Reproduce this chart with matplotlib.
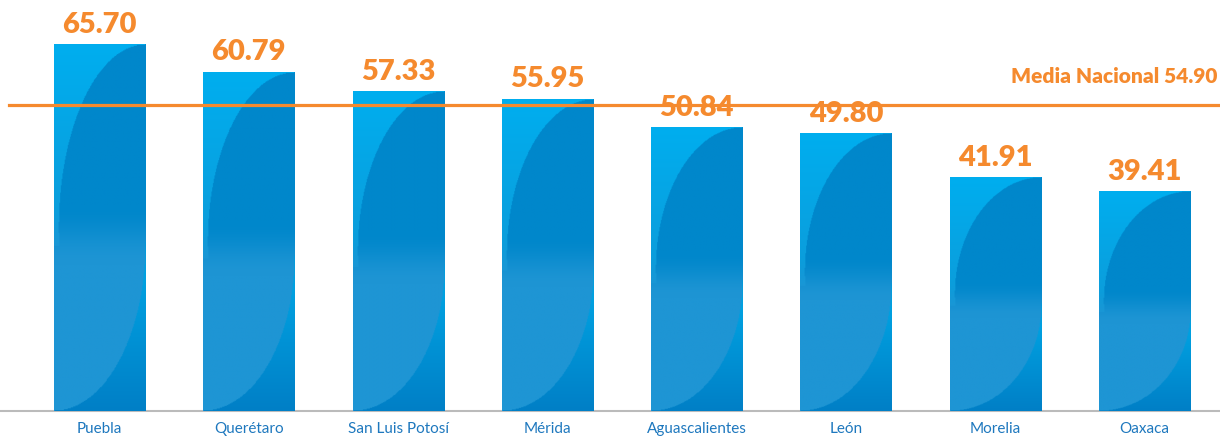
import numpy as np
import matplotlib.pyplot as plt

ciudades = ['Puebla', 'Querétaro', 'San Luis Potosí', 'Mérida',
            'Aguascalientes', 'León', 'Morelia', 'Oaxaca']
valores = [65.70, 60.79, 57.33, 55.95, 50.84, 49.80, 41.91, 39.41]
media_nacional = 54.90

NARANJA = '#F58A2E'
AZUL_TEXTO = '#1E78BE'


def hex_rgb(h):
    h = h.lstrip('#')
    return np.array([int(h[i:i + 2], 16) for i in (0, 2, 4)]) / 255.0


def suave(t):
    t = np.clip(t, 0, 1)
    return t * t * (3 - 2 * t)


def textura_barra(nv=400, nu=120):
    # glossy fill: light top-left, dark arc on the right, light lens bottom-left
    u = np.linspace(0, 1, nu)[None, :]
    v = np.linspace(0, 1, nv)[:, None]
    u, v = np.broadcast_arrays(u, v)
    s = v[..., None]

    claro_arriba = hex_rgb('#00AEEF')
    claro_medio = hex_rgb('#0C9CDA')
    oscuro = hex_rgb('#0087CB')
    claro_abajo = hex_rgb('#1E95D4')
    cian = hex_rgb('#00A0E0')
    fondo = hex_rgb('#007FC6')

    # upper half: light gradient with the dark arc from the top-right corner
    t = np.clip((s - 0.5) / 0.5, 0, 1)
    arriba = claro_medio * (1 - t) + claro_arriba * t
    e1 = ((u - 1) / 0.95) ** 2 + ((v - 0.5) / 0.5) ** 2 <= 1
    arriba[e1 & (v >= 0.45)] = oscuro
    arriba[v < 0.45] = oscuro

    # lower half: light lens bottom-left, cyan fading to dark at the base
    c2 = np.clip(s / 0.35, 0, 1)
    abajo = fondo * (1 - c2) + cian * c2
    e2 = (u ** 2 + ((v - 0.46) / 0.46) ** 2 <= 1) | (v >= 0.46)
    abajo[e2] = claro_abajo

    w = suave((0.56 - s) / 0.16)
    return abajo * w + arriba * (1 - w)


fig = plt.figure(figsize=(12.2, 4.38), dpi=100)
ax = fig.add_axes([0, 27 / 438, 1, 411 / 438])

x = np.arange(len(ciudades))
barras = ax.bar(x, valores, width=0.61, color='#0087CB', zorder=2)

textura = textura_barra()
for b in barras:
    x0, w, h = b.get_x(), b.get_width(), b.get_height()
    ax.imshow(textura, extent=[x0, x0 + w, 0, h], origin='lower',
              aspect='auto', interpolation='bilinear', zorder=3)

for xi, val in zip(x, valores):
    ax.annotate(f'{val:.2f}', (xi, val), xytext=(0, 5),
                textcoords='offset points', ha='center', va='bottom',
                color=NARANJA, fontsize=21, fontweight='heavy',
                family='Lato', zorder=5)

ax.axhline(media_nacional, xmin=0.007, xmax=1, color=NARANJA, lw=2.3, zorder=4)
ax.text(0.998, media_nacional + 3.5, f'Media Nacional {media_nacional:.2f}',
        transform=ax.get_yaxis_transform(), ha='right', va='bottom',
        color=NARANJA, fontsize=15, fontweight='heavy', family='Lato')

ax.set_xlim(-0.666, 7.505)
ax.set_ylim(0, 411 / 5.571)

ax.set_xticks(x)
ax.set_xticklabels(ciudades, color=AZUL_TEXTO, fontsize=11, family='Lato')
ax.tick_params(axis='x', length=0, pad=8)
ax.set_yticks([])
for lado in ('top', 'right', 'left'):
    ax.spines[lado].set_visible(False)
ax.spines['bottom'].set_color('#BBBBBB')
ax.spines['bottom'].set_linewidth(1.5)

fig.savefig('out.png', dpi=100)
